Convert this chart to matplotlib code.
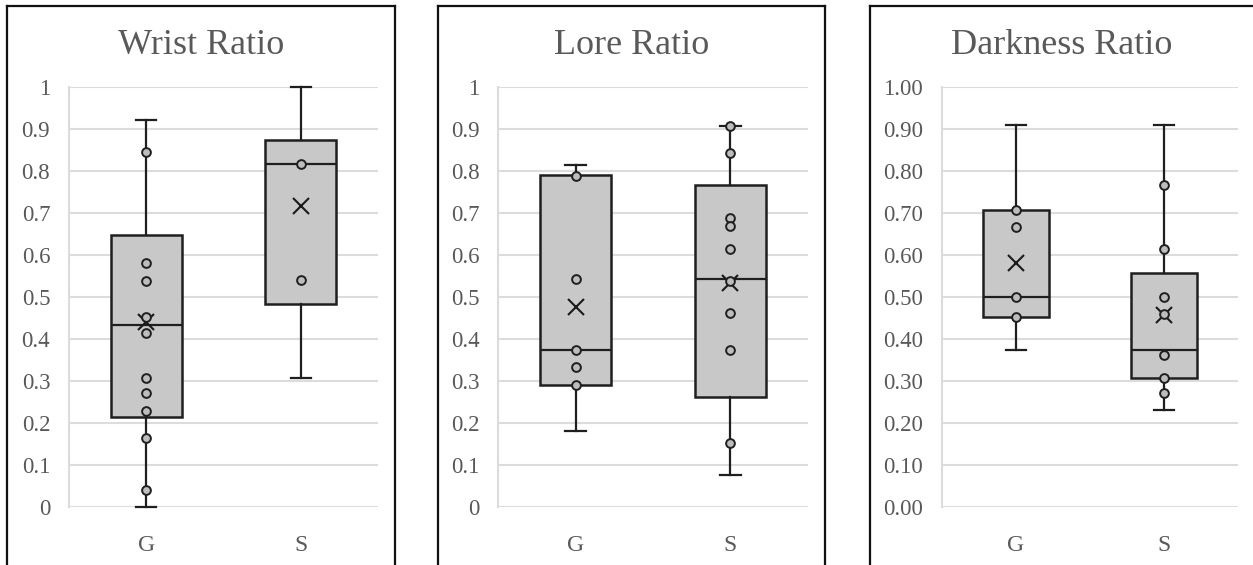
import matplotlib
matplotlib.use("Agg")
import matplotlib.pyplot as plt
from matplotlib.lines import Line2D

plt.rcParams['font.family'] = ['Liberation Serif', 'DejaVu Serif']

categories = ['G', 'S']
titles = ['Wrist Ratio', 'Lore Ratio', 'Darkness Ratio']

# Wrist Ratio
wrist_whislo = [0.0, 0.306]
wrist_q1 = [0.214, 0.483]
wrist_med = [0.434, 0.816]
wrist_q3 = [0.648, 0.874]
wrist_whishi = [0.922, 1.0]
wrist_mean = [0.441, 0.717]
wrist_points_G = [0.845, 0.582, 0.537, 0.452, 0.415, 0.306, 0.272, 0.229, 0.165, 0.040]
wrist_points_S = [0.817, 0.541]

# Lore Ratio
lore_whislo = [0.182, 0.076]
lore_q1 = [0.290, 0.263]
lore_med = [0.374, 0.543]
lore_q3 = [0.791, 0.766]
lore_whishi = [0.815, 0.907]
lore_mean = [0.476, 0.533]
lore_points_G = [0.789, 0.543, 0.374, 0.333, 0.290]
lore_points_S = [0.907, 0.844, 0.689, 0.668, 0.614, 0.537, 0.462, 0.374, 0.153]

# Darkness Ratio
dark_whislo = [0.374, 0.230]
dark_q1 = [0.452, 0.306]
dark_med = [0.500, 0.374]
dark_q3 = [0.706, 0.556]
dark_whishi = [0.909, 0.909]
dark_mean = [0.580, 0.458]
dark_points_G = [0.706, 0.666, 0.500, 0.452]
dark_points_S = [0.767, 0.614, 0.500, 0.460, 0.362, 0.306, 0.272]

yticks = [0.0, 0.1, 0.2, 0.3, 0.4, 0.5, 0.6, 0.7, 0.8, 0.9, 1.0]
ylabels_plain = ['0', '0.1', '0.2', '0.3', '0.4', '0.5', '0.6', '0.7', '0.8', '0.9', '1']
ylabels_fixed = ['0.00', '0.10', '0.20', '0.30', '0.40', '0.50', '0.60', '0.70', '0.80', '0.90', '1.00']

panels = [
    (wrist_whislo, wrist_q1, wrist_med, wrist_q3, wrist_whishi, wrist_mean,
     [wrist_points_G, wrist_points_S], ylabels_plain),
    (lore_whislo, lore_q1, lore_med, lore_q3, lore_whishi, lore_mean,
     [lore_points_G, lore_points_S], ylabels_plain),
    (dark_whislo, dark_q1, dark_med, dark_q3, dark_whishi, dark_mean,
     [dark_points_G, dark_points_S], ylabels_fixed),
]

W, H = 1253, 565
fig = plt.figure(figsize=(W / 100, H / 100), dpi=100)

axes_px = [(69, 378), (498, 808), (942, 1238)]
frames_px = [(7, 395), (438, 825), (870, 1262)]
title_cx = [201, 632, 1062]
widths = [0.46, 0.46, 0.44]
TOP, BOT = 87, 507
TXT = '#595959'
GRID = '#dcdcdc'
EDGE = '#1f1f1f'

for i, (lo, q1, med, q3, hi, mean, pts, ylab) in enumerate(panels):
    l, r = axes_px[i]
    ax = fig.add_axes([l / W, 1 - BOT / H, (r - l) / W, (BOT - TOP) / H])
    stats = []
    for j in range(len(categories)):
        stats.append(dict(whislo=lo[j], q1=q1[j], med=med[j], q3=q3[j],
                          whishi=hi[j], mean=mean[j], fliers=[], label=categories[j]))
    art = ax.bxp(stats, positions=[1, 2], widths=widths[i], capwidths=0.13,
                 patch_artist=True, showmeans=True,
                 boxprops=dict(facecolor='#c8c8c8', edgecolor=EDGE, linewidth=1.8),
                 medianprops=dict(color=EDGE, linewidth=1.6),
                 whiskerprops=dict(color=EDGE, linewidth=1.6),
                 capprops=dict(color=EDGE, linewidth=1.6),
                 meanprops=dict(marker='x', markeredgecolor='#1a1a1a', markersize=11,
                                markeredgewidth=1.5))
    for k in art:
        for a in art[k]:
            a.set_clip_on(False)
    for j, p in enumerate(pts):
        ax.plot([j + 1] * len(p), p, linestyle='none', marker='o', markersize=6.3,
                markerfacecolor='#bdbdbd', markeredgecolor=EDGE,
                markeredgewidth=1.4, clip_on=False, zorder=5)
    ax.set_xlim(0.5, 2.5)
    ax.set_ylim(0, 1)
    ax.set_yticks(yticks)
    ax.set_yticklabels(ylab)
    ax.set_xticks([1, 2])
    ax.set_xticklabels(categories)
    ax.tick_params(axis='y', length=0, pad=13.5, labelsize=16.5, labelcolor=TXT)
    ax.tick_params(axis='x', length=0, pad=20, labelsize=17, labelcolor=TXT)
    ax.yaxis.grid(True, color=GRID, linewidth=1.5)
    ax.set_axisbelow(True)
    for s in ['top', 'right', 'bottom']:
        ax.spines[s].set_visible(False)
    ax.spines['left'].set_color(GRID)
    ax.spines['left'].set_linewidth(1.5)
    ax.set_facecolor('none')

    fl, fr = frames_px[i]
    for xs, ys in [([fl, fl], [H, 6]), ([fl, fr], [6, 6]), ([fr, fr], [6, H])]:
        fig.add_artist(Line2D([x / W for x in xs], [1 - y / H for y in ys],
                              color='#111111', linewidth=1.6,
                              transform=fig.transFigure))
    fig.text(title_cx[i] / W, 1 - 54 / H, titles[i], ha='center', va='baseline',
             fontsize=26, color=TXT)

fig.savefig('out.png', dpi=100)
